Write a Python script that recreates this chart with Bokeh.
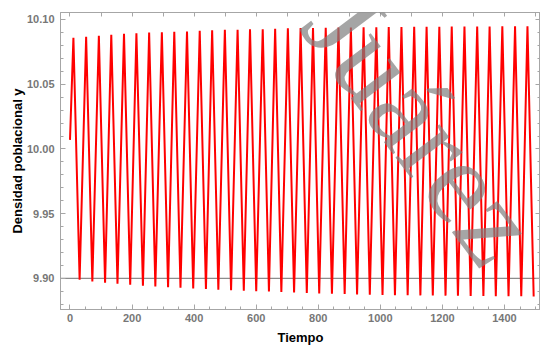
from bokeh.plotting import figure
from bokeh.models import (Range1d, LinearAxis, SingleIntervalTicker,
                          NumeralTickFormatter, CustomJSTickFormatter, Span, Label)
from bokeh.embed import file_html
from bokeh.resources import INLINE

# ---- data (extremes of the oscillation) ----
t_start = [0]
y_start = [10.007]

peak_t = [11, 52, 93, 133, 174, 214, 255, 296, 336, 377, 418, 458, 499, 540, 580,
          621, 661, 702, 743, 783, 824, 865, 905, 946, 987, 1027, 1068, 1109, 1149,
          1190, 1230, 1271, 1312, 1352, 1393, 1434, 1474]
peak_y = [10.0859, 10.0866, 10.0874, 10.0882, 10.0889, 10.0894, 10.0900, 10.0902,
          10.0905, 10.0907, 10.0913, 10.0917, 10.0920, 10.0920, 10.0925, 10.0925,
          10.0928, 10.0933, 10.0934, 10.0935, 10.0936, 10.0937, 10.0938, 10.0939,
          10.0940, 10.0941, 10.0942, 10.0943, 10.0943, 10.0944, 10.0945, 10.0945,
          10.0946, 10.0946, 10.0947, 10.0947, 10.0947]

trough_t = [31, 72, 113, 153, 194, 235, 275, 316, 356, 397, 438, 478, 519, 560, 600,
            641, 681, 722, 763, 803, 844, 885, 925, 966, 1007, 1047, 1088, 1129, 1169,
            1210, 1250, 1291, 1332, 1372, 1413, 1454, 1494]
trough_y = [9.8990, 9.8977, 9.8967, 9.8959, 9.8951, 9.8944, 9.8938, 9.8933, 9.8928,
            9.8923, 9.8918, 9.8913, 9.8908, 9.8905, 9.8902, 9.8899, 9.8895, 9.8891,
            9.8887, 9.8884, 9.8881, 9.8879, 9.8877, 9.8875, 9.8873, 9.8871, 9.8870,
            9.8869, 9.8868, 9.8867, 9.8866, 9.8865, 9.8864, 9.8863, 9.8862, 9.8862,
            9.8861]

x_label = "Tiempo"
y_label = "Densidad poblacional y"
watermark = "Juárez"

# assemble the curve: start point, then alternating peaks and troughs
xs = list(t_start)
ys = list(y_start)
for pt, py, tt, ty in zip(peak_t, peak_y, trough_t, trough_y):
    xs += [pt, tt]
    ys += [py, ty]

FRAME = "#a6a6a6"
TICKLAB = "#777777"

p = figure(width=540, height=347, output_backend="svg", toolbar_location=None,
           x_range=Range1d(-30.6, 1516), y_range=Range1d(9.876, 10.1054),
           min_border_left=60, min_border_right=0, min_border_top=12,
           min_border_bottom=38)
p.background_fill_color = "white"
p.border_fill_color = "white"
p.outline_line_color = FRAME
p.xgrid.visible = False
p.ygrid.visible = False

# bottom axis
xa = p.xaxis[0]
xa.ticker = SingleIntervalTicker(interval=200, num_minor_ticks=4)
xa.axis_label = x_label
# left axis
ya = p.yaxis[0]
ya.ticker = SingleIntervalTicker(interval=0.05, num_minor_ticks=5)
ya.formatter = NumeralTickFormatter(format="0.00")
ya.axis_label = y_label

for ax in (xa, ya):
    ax.axis_line_color = FRAME
    ax.major_tick_line_color = FRAME
    ax.minor_tick_line_color = FRAME
    ax.major_tick_in = 5
    ax.major_tick_out = 0
    ax.minor_tick_in = 3
    ax.minor_tick_out = 0
    ax.major_label_text_color = TICKLAB
    ax.major_label_text_font = "Liberation Sans"
    ax.major_label_text_font_style = "bold"
    ax.major_label_text_font_size = "11px"
    ax.axis_label_text_font = "Liberation Sans"
    ax.axis_label_text_font_style = "bold"
    ax.axis_label_text_font_size = "13px"
    ax.axis_label_text_color = "black"
xa.major_label_standoff = 4
xa.axis_label_standoff = 5
ya.major_label_standoff = 6
ya.axis_label_standoff = -1

blank = CustomJSTickFormatter(code="return ''")
top = LinearAxis(ticker=SingleIntervalTicker(interval=100, num_minor_ticks=0),
                 formatter=blank, axis_line_color=FRAME, major_tick_line_color=FRAME,
                 major_tick_in=4, major_tick_out=0, major_label_standoff=0,
                 major_label_text_font_size="1px")
right = LinearAxis(ticker=SingleIntervalTicker(interval=0.05, num_minor_ticks=5),
                   formatter=blank, axis_line_color=FRAME, major_tick_line_color=FRAME,
                   minor_tick_line_color=FRAME, major_tick_in=5, major_tick_out=0,
                   minor_tick_in=3, minor_tick_out=0, major_label_standoff=0,
                   major_label_text_font_size="1px")
p.add_layout(top, "above")
p.add_layout(right, "right")

# horizontal axis line at 9.90
p.add_layout(Span(location=9.90, dimension="width", line_color="#8c8c8c",
                  line_width=1.2, level="underlay"))

p.line(xs, ys, line_color="#ff0000", line_width=2)

# watermark
p.add_layout(Label(x=838, y=10.1125, text=watermark, angle=-53, angle_units="deg",
                   text_font="Liberation Serif", text_font_size="120px",
                   text_color="#7f7f7f", text_alpha=0.7, text_align="left",
                   text_baseline="alphabetic"))

open("out.html", "w").write(file_html(p, INLINE))
